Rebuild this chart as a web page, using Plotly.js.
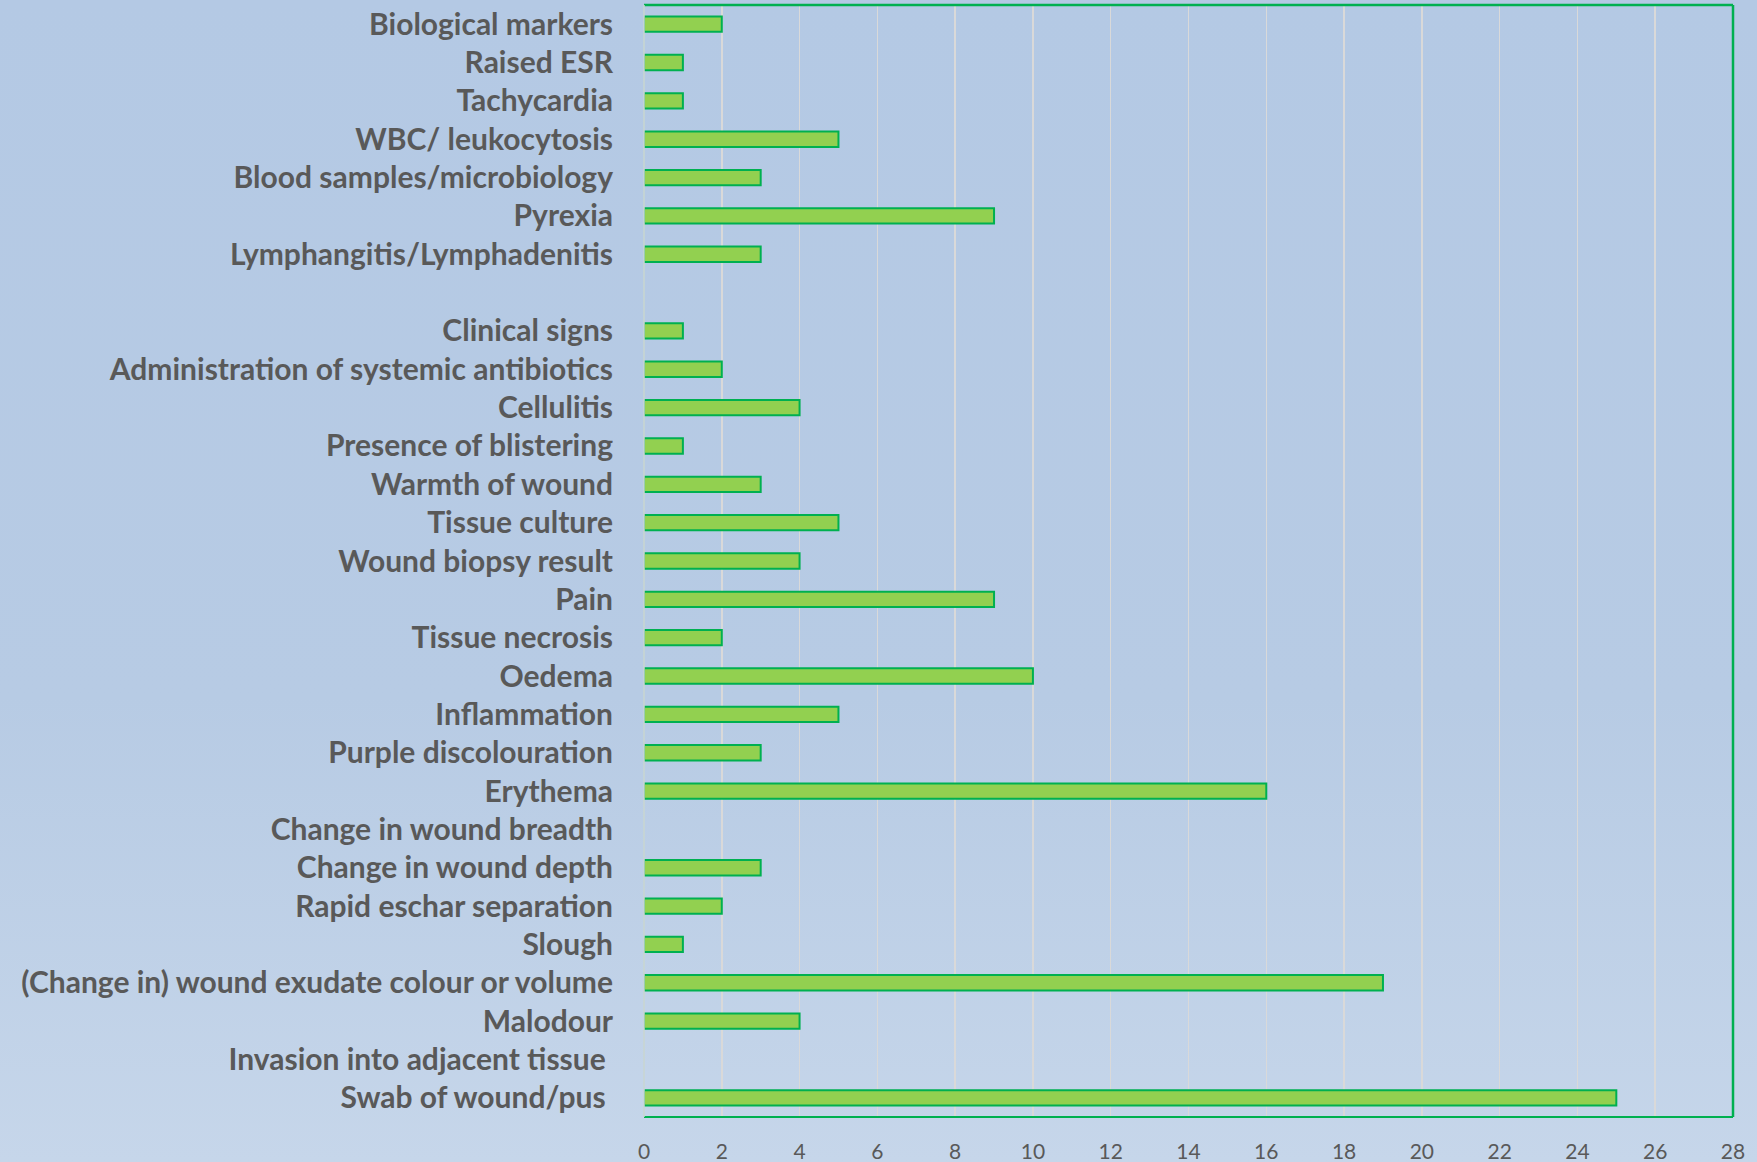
<!DOCTYPE html>
<html>
<head>
<meta charset="utf-8">
<script src="https://cdn.plot.ly/plotly-3.0.1.min.js"></script>
<style>
html,body{margin:0;padding:0;}
body{width:1757px;height:1162px;background:linear-gradient(to bottom,#b4c9e4 0%,#b7cbe4 60%,#c6d6ea 100%);}
#chart{width:1757px;height:1162px;}
</style>
</head>
<body>
<div id="chart"></div>
<script>
// Categories listed top to bottom (blank slot kept as a spacer category)
const categories = [
  "Biological markers",
  "Raised ESR",
  "Tachycardia",
  "WBC/ leukocytosis",
  "Blood samples/microbiology",
  "Pyrexia",
  "Lymphangitis/Lymphadenitis",
  "\u00A0",
  "Clinical signs",
  "Administration of systemic antibiotics",
  "Cellulitis",
  "Presence of blistering",
  "Warmth of wound",
  "Tissue culture",
  "Wound biopsy result",
  "Pain",
  "Tissue necrosis",
  "Oedema",
  "Inflammation",
  "Purple discolouration",
  "Erythema",
  "Change in wound breadth",
  "Change in wound depth",
  "Rapid eschar separation",
  "Slough",
  "(Change in) wound exudate colour or volume",
  "Malodour",
  "Invasion into adjacent tissue\u00A0",
  "Swab of wound/pus\u00A0"
];
const counts = [
  2, 1, 1, 5, 3, 9, 3,
  null,
  1, 2, 4, 1, 3, 5, 4, 9, 2, 10, 5, 3, 16,
  0, 3, 2, 1, 19, 4, 0, 25
];
const xTicks = [0,2,4,6,8,10,12,14,16,18,20,22,24,26,28];

const trace = {
  type: 'bar',
  orientation: 'h',
  y: categories,
  x: counts,
  marker: {
    color: '#92d050',
    line: {color: '#00b050', width: counts.map(v => (v ? 2 : 0))}
  },
  hoverinfo: 'x+y'
};

const layout = {
  width: 1757,
  height: 1162,
  paper_bgcolor: 'rgba(0,0,0,0)',
  plot_bgcolor: 'rgba(0,0,0,0)',
  margin: {l: 644, r: 24, t: 5, b: 45},
  bargap: 0.6,
  showlegend: false,
  font: {family: 'Lato, "Open Sans", sans-serif', color: '#595959'},
  xaxis: {
    range: [0, 28],
    tickvals: xTicks,
    ticktext: xTicks.map(String),
    showgrid: true,
    gridcolor: '#d9d9d9',
    gridwidth: 1.5,
    zeroline: false,
    showline: false,
    ticks: '',
    ticklabelstandoff: 20,
    tickfont: {family: 'Lato, sans-serif', size: 21, color: '#595959'}
  },
  yaxis: {
    type: 'category',
    categoryorder: 'array',
    categoryarray: categories.slice().reverse(),
    autorange: false,
    range: [-0.5, categories.length - 0.5],
    showgrid: false,
    zeroline: false,
    showline: false,
    ticks: '',
    ticklabelstandoff: 30,
    tickfont: {family: 'Lato, sans-serif', size: 30, color: '#595959', weight: 'bold'}
  },
  shapes: [
    {type: 'line', xref: 'paper', yref: 'paper', x0: 0, x1: 1, y0: 1, y1: 1, line: {color: '#00b050', width: 2.5}},
    {type: 'line', xref: 'paper', yref: 'paper', x0: 1, x1: 1, y0: 0, y1: 1, line: {color: '#00b050', width: 2.5}},
    {type: 'line', xref: 'paper', yref: 'paper', x0: 0, x1: 1, y0: 0, y1: 0, line: {color: '#00b050', width: 2}},
    {type: 'line', xref: 'paper', yref: 'paper', x0: 0, x1: 0, y0: 0, y1: 1, line: {color: '#c9d6d0', width: 1.5}}
  ]
};

Plotly.newPlot('chart', [trace], layout, {displayModeBar: false, staticPlot: true});
</script>
</body>
</html>
